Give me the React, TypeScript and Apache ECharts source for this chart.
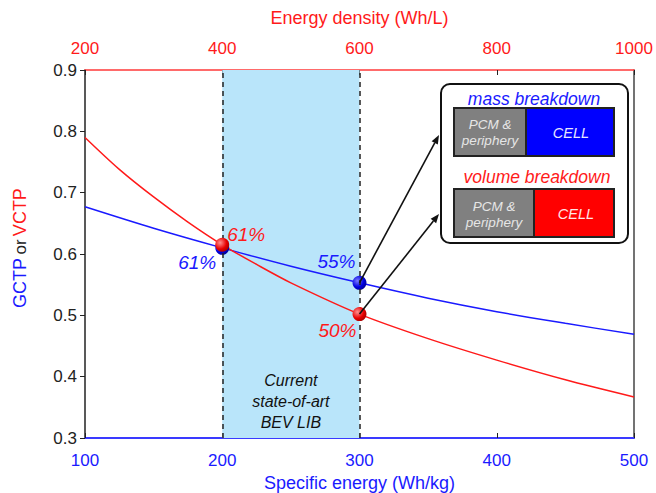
import React, { useEffect, useRef } from "react";
import * as echarts from "echarts";

// Bottom axis: specific energy (Wh/kg) vs GCTP
const specificEnergy = [100, 150, 200, 250, 300, 350, 400, 450, 500];
const gctp = [0.677, 0.642, 0.61, 0.58, 0.553, 0.528, 0.506, 0.487, 0.469];
// Top axis: energy density (Wh/L) vs VCTP
const energyDensity = [200, 250, 300, 350, 400, 450, 500, 600, 700, 800, 900, 1000];
const vctp = [0.79, 0.738, 0.693, 0.652, 0.615, 0.583, 0.553, 0.502, 0.462, 0.427, 0.395, 0.367];
// Highlighted state-of-art points
const stateSE = [200, 300];
const stateGctp = [0.61, 0.553];
const gctpLabels = ["61%", "55%"];
const stateED = [400, 600];
const stateVctp = [0.615, 0.502];
const vctpLabels = ["61%", "50%"];
const shadeRange = [200, 300];
const bottomTicks = { min: 100, max: 500, interval: 100 };
const topTicks = { min: 200, max: 1000, interval: 200 };
const yTicks = { min: 0.3, max: 0.9, interval: 0.1 };

const FONT = "Liberation Sans, Arial, sans-serif";

const ballBlue = {
  type: "radial", x: 0.35, y: 0.35, r: 0.75,
  colorStops: [{ offset: 0, color: "#7a7aff" }, { offset: 0.6, color: "#0000e0" }, { offset: 1, color: "#00008a" }],
};
const ballRed = {
  type: "radial", x: 0.35, y: 0.35, r: 0.75,
  colorStops: [{ offset: 0, color: "#ff9090" }, { offset: 0.6, color: "#e80000" }, { offset: 1, color: "#9a0000" }],
};

export default function App() {
  const ref = useRef<HTMLDivElement>(null);
  useEffect(() => {
    document.body.style.margin = "0";
    const chart = echarts.init(ref.current!, null, { renderer: "svg" });
    const blueLabelOffsets = [[-25, 15], [-23, -21]];
    const redLabelOffsets = [[24, -10], [-22, 16]];
    const option: any = {
      animation: false,
      textStyle: { fontFamily: FONT },
      grid: { left: 85, right: 22, top: 70, bottom: 55, outerBoundsMode: "none", containLabel: false },
      xAxis: [
        {
          type: "value", position: "bottom", ...bottomTicks,
          name: "Specific energy (Wh/kg)", nameLocation: "middle", nameGap: 35,
          nameTextStyle: { color: "#1a1aff", fontSize: 18, fontFamily: FONT },
          axisLine: { lineStyle: { color: "#3a3aff", width: 2 } },
          axisTick: { inside: true, length: 5, lineStyle: { color: "#222", width: 1 } },
          axisLabel: { color: "#1a1aff", fontSize: 17, margin: 14, fontFamily: FONT },
          splitLine: { show: false },
        },
        {
          type: "value", position: "top", ...topTicks,
          name: "Energy density (Wh/L)", nameLocation: "middle", nameGap: 43,
          nameTextStyle: { color: "#ff1a1a", fontSize: 18, fontFamily: FONT },
          axisLine: { lineStyle: { color: "#ff3a3a", width: 1.5 } },
          axisTick: { inside: true, length: 5, lineStyle: { color: "#222", width: 1 } },
          axisLabel: { color: "#ff1a1a", fontSize: 17, margin: 13, fontFamily: FONT, formatter: (v: number) => String(v) },
          splitLine: { show: false },
        },
      ],
      yAxis: [
        {
          type: "value", ...yTicks,
          axisLine: { show: true, lineStyle: { color: "#222", width: 1.5 } },
          axisTick: { show: true, length: 5, lineStyle: { color: "#222" } },
          axisLabel: { color: "#222", fontSize: 17, margin: 8, fontFamily: FONT, formatter: (v: number) => v.toFixed(1) },
          splitLine: { show: false },
        },
        {
          type: "value", ...yTicks, position: "right",
          axisLine: { show: true, lineStyle: { color: "#444", width: 1.5 } },
          axisTick: { show: false }, axisLabel: { show: false }, splitLine: { show: false },
        },
      ],
      series: [
        {
          type: "line", xAxisIndex: 0, yAxisIndex: 0, data: [], z: 1, silent: true,
          markArea: {
            silent: true,
            itemStyle: { color: "#b9e5fa" },
            label: {
              show: true, position: "insideBottom", distance: 5,
              formatter: "Current\nstate-of-art\nBEV LIB",
              color: "#111", fontStyle: "italic", fontSize: 16, lineHeight: 21, fontFamily: FONT,
            },
            data: [[{ xAxis: shadeRange[0] }, { xAxis: shadeRange[1] }]],
          },
          markLine: {
            silent: true, symbol: "none", label: { show: false },
            lineStyle: { color: "#222", type: [5, 4], width: 1.5 },
            data: shadeRange.map((v) => ({ xAxis: v })),
          },
        },
        {
          type: "line", xAxisIndex: 0, yAxisIndex: 0, smooth: 0.3, showSymbol: false, z: 3,
          lineStyle: { color: "#1a1aff", width: 1.5 },
          data: specificEnergy.map((x, i) => [x, gctp[i]]),
        },
        {
          type: "line", xAxisIndex: 1, yAxisIndex: 0, smooth: 0.3, showSymbol: false, z: 3,
          lineStyle: { color: "#ff1a1a", width: 1.5 },
          data: energyDensity.map((x, i) => [x, vctp[i]]),
        },
        {
          type: "scatter", xAxisIndex: 0, yAxisIndex: 0, z: 4, symbolSize: 14,
          itemStyle: { color: ballBlue, opacity: 1 },
          data: stateSE.map((x, i) => ({
            value: [x, stateGctp[i]],
            label: {
              show: true, formatter: gctpLabels[i], position: "inside", offset: blueLabelOffsets[i],
              color: "#1a1aff", fontSize: 19, fontStyle: "italic", fontFamily: FONT,
            },
          })),
        },
        {
          type: "scatter", xAxisIndex: 1, yAxisIndex: 0, z: 5, symbolSize: 14,
          itemStyle: { color: ballRed, opacity: 1 },
          data: stateED.map((x, i) => ({
            value: [x, stateVctp[i]],
            label: {
              show: true, formatter: vctpLabels[i], position: "inside", offset: redLabelOffsets[i],
              color: "#ff1a1a", fontSize: 19, fontStyle: "italic", fontFamily: FONT,
            },
          })),
        },
      ],
    };
    chart.setOption(option);

    const p1 = chart.convertToPixel({ xAxisIndex: 0, yAxisIndex: 0 }, [stateSE[1], stateGctp[1]]) as number[];
    const p2 = chart.convertToPixel({ xAxisIndex: 1, yAxisIndex: 0 }, [stateED[1], stateVctp[1]]) as number[];
    const tips = [[439, 135], [439, 214]];
    const arrow = (from: number[], to: number[]) => {
      const dx = to[0] - from[0], dy = to[1] - from[1];
      const len = Math.sqrt(dx * dx + dy * dy);
      const ux = dx / len, uy = dy / len;
      const hl = 9, hw = 3.5;
      const bx = to[0] - ux * hl, by = to[1] - uy * hl;
      return [
        { type: "line", shape: { x1: from[0], y1: from[1], x2: bx, y2: by }, style: { stroke: "#111", lineWidth: 1.6 }, z: 10 },
        {
          type: "polygon", z: 10,
          shape: { points: [[to[0], to[1]], [bx - uy * hw, by + ux * hw], [bx + uy * hw, by - ux * hw]] },
          style: { fill: "#111" },
        },
      ];
    };
    const boxText = (text: string, x: number, y: number, fill: string, size: number, lh?: number) => ({
      type: "text", x, y, z: 12,
      style: { text, fill, font: `italic ${size}px ${FONT}`, align: "center", verticalAlign: "middle", lineHeight: lh || size },
    });
    chart.setOption({
      graphic: [
        {
          type: "text", x: 20, y: 248, rotation: Math.PI / 2, z: 10,
          style: {
            text: "{g|GCTP} {o|or} {v|VCTP}", align: "center", verticalAlign: "middle",
            rich: {
              g: { fill: "#1a1aff", font: `18px ${FONT}` },
              o: { fill: "#222", font: `17px ${FONT}` },
              v: { fill: "#ff1a1a", font: `18px ${FONT}` },
            },
          },
        },
        ...arrow(p1, tips[0]),
        ...arrow(p2, tips[1]),
        { type: "rect", z: 11, shape: { x: 441, y: 84, width: 187, height: 159, r: 9 }, style: { fill: "#fff", stroke: "#111", lineWidth: 2 } },
        boxText("mass breakdown", 534, 99, "#1a1aff", 17.5),
        { type: "rect", z: 11, shape: { x: 454, y: 108, width: 72, height: 48 }, style: { fill: "#808080", stroke: "#222", lineWidth: 2 } },
        { type: "rect", z: 11, shape: { x: 526, y: 108, width: 88, height: 48 }, style: { fill: "#0000ff", stroke: "#222", lineWidth: 2 } },
        boxText("PCM &\nperiphery", 490, 132, "#e6e6e6", 13.5, 16),
        boxText("CELL", 571, 133, "#e6e6ff", 14.5),
        boxText("volume breakdown", 537, 177, "#ff1a1a", 17.5),
        { type: "rect", z: 11, shape: { x: 454, y: 189, width: 80, height: 48 }, style: { fill: "#808080", stroke: "#222", lineWidth: 2 } },
        { type: "rect", z: 11, shape: { x: 534, y: 189, width: 80, height: 48 }, style: { fill: "#ff0000", stroke: "#222", lineWidth: 2 } },
        boxText("PCM &\nperiphery", 494, 214, "#e6e6e6", 13.5, 16),
        boxText("CELL", 576, 214, "#ffe6e6", 14.5),
      ],
    });
    return () => chart.dispose();
  }, []);
  return <div ref={ref} style={{ width: 656, height: 493 }} />;
}
